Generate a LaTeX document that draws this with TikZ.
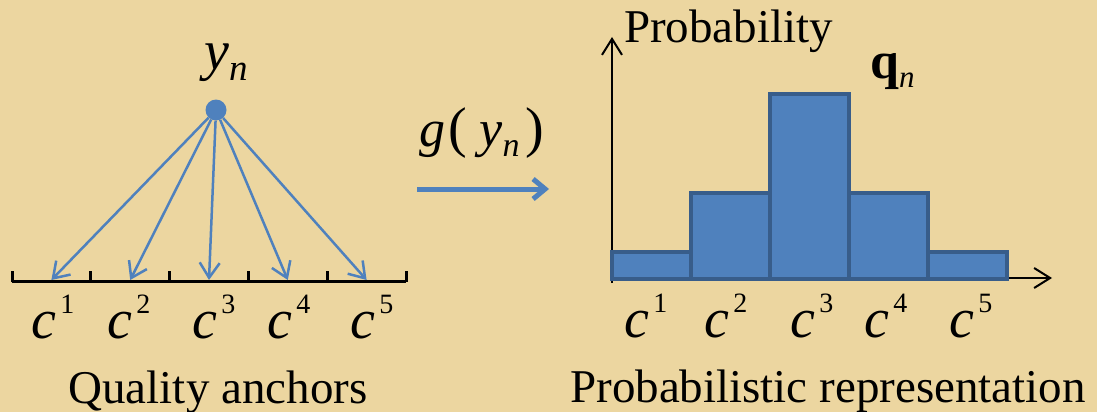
\documentclass[tikz,border=0pt]{standalone}
\usepackage{fontspec}
\newfontfamily\dvs{DejaVu Serif}
\newfontfamily\lbs{Liberation Serif}
\usetikzlibrary{arrows.meta}
\definecolor{papyrus}{RGB}{236,214,160}
\definecolor{anchorblue}{RGB}{79,129,189}
\definecolor{bardark}{RGB}{56,93,138}
\tikzstyle{dot} = [circle, fill=anchorblue, minimum size=21pt, inner sep=0pt]
\tikzstyle{anchorarrow} = [anchorblue, line width=2.5pt, -{Straight Barb[length=15pt, width=20pt]}]
\tikzstyle{maparrow} = [anchorblue, line width=5pt, -{Straight Barb[length=12pt, width=20pt]}]
\tikzstyle{axisarrow} = [black, line width=2pt, -{Straight Barb[length=16pt, width=20pt]}]
\tikzstyle{scale axis} = [black, line width=3pt]
\tikzstyle{bar} = [rectangle, anchor=south, minimum width=79pt, draw=bardark, line width=4pt, fill=anchorblue, inner sep=0pt]
\newcommand{\cidx}[1]{{\lbs\itshape\fontsize{56}{60}\selectfont c}\hspace{4pt}\raisebox{25pt}{\lbs\fontsize{28}{30}\selectfont #1}}

\begin{document}
\begin{tikzpicture}[x=1pt, y=-1pt]
    % Background
    \fill [papyrus] (0,0) rectangle (1097,412);
    \useasboundingbox (0,0) rectangle (1097,412);

    % Anchor scale
    \draw [scale axis] (12,281) -- (406,281);
    \foreach \x in {12, 90.8, 169.6, 248.4, 327.2, 406}
        \draw [scale axis] (\x,282) -- (\x,271);
    \foreach \i/\x in {1/51.4, 2/130.2, 3/209, 4/287.8, 5/366.6}
        \coordinate (a\i) at (\x,280);

    % Quality score
    \node (yn) [dot] at (216,110) {};
    \node (ynlabel) [font=\lbs\fontsize{47}{52}\selectfont, inner sep=0pt, anchor=base] at (226,70) {{\itshape\fontsize{56}{60}\selectfont y}\raisebox{-11pt}{\itshape\fontsize{37}{40}\selectfont n}};
    \foreach \i in {1,...,5}
        \draw [anchorarrow] (yn) -- (a\i);

    % Mapping
    \coordinate (gstart) at (417,189);
    \coordinate (gend) at (549,189);
    \draw [maparrow] (gstart) -- (gend);
    \node (gmap) [font=\lbs\fontsize{47}{52}\selectfont, inner sep=0pt, anchor=base] at (482,146) {{\itshape\fontsize{52}{56}\selectfont g}\hspace{3pt}{\fontsize{56}{56}\selectfont(}\hspace{12pt}{\itshape\fontsize{52}{56}\selectfont y}\raisebox{-10pt}{\itshape\fontsize{34}{40}\selectfont n}\hspace{6pt}{\fontsize{56}{56}\selectfont)}};

    % Histogram axes
    \coordinate (origin) at (612,283);
    \coordinate (ytop) at (612,37);
    \coordinate (xstart) at (612,278);
    \coordinate (xend) at (1052,278);
    \draw [axisarrow] (origin) -- (ytop);
    \draw [axisarrow] (xstart) -- (xend);

    % Bars
    \foreach \i/\x/\h in {1/651/27, 2/730/86, 3/809/185, 4/888/86, 5/967/27}
        \node (bar\i) [bar, minimum height=\h pt] at (\x,281) {};

    % Axis labels
    \node (prob) [font=\lbs\fontsize{47}{52}\selectfont, inner sep=0pt, anchor=base west] at (624,43) {Probability};
    \node (qn) [font=\lbs\fontsize{47}{52}\selectfont, inner sep=0pt, anchor=base west] at (870,78) {{\bfseries\fontsize{52}{56}\selectfont q}\raisebox{-9pt}{\itshape\fontsize{31}{34}\selectfont n}};

    % Anchor labels
    \foreach \i/\x in {1/53, 2/129, 3/214, 4/289, 5/372}
        \node (lc\i) [inner sep=0pt, anchor=base] at (\x,338) {\cidx{\i}};
    \foreach \i/\x in {1/646, 2/726, 3/812, 4/886, 5/971}
        \node (rc\i) [inner sep=0pt, anchor=base] at (\x,337) {\cidx{\i}};

    % Captions
    \node (quality) [font=\lbs\fontsize{47}{52}\selectfont, inner sep=0pt, anchor=base] at (218,403) {Quality anchors};
    \node (probrep) [font=\lbs\fontsize{47}{52}\selectfont, inner sep=0pt, anchor=base] at (828,402) {Probabilistic representation};
\end{tikzpicture}
\end{document}
